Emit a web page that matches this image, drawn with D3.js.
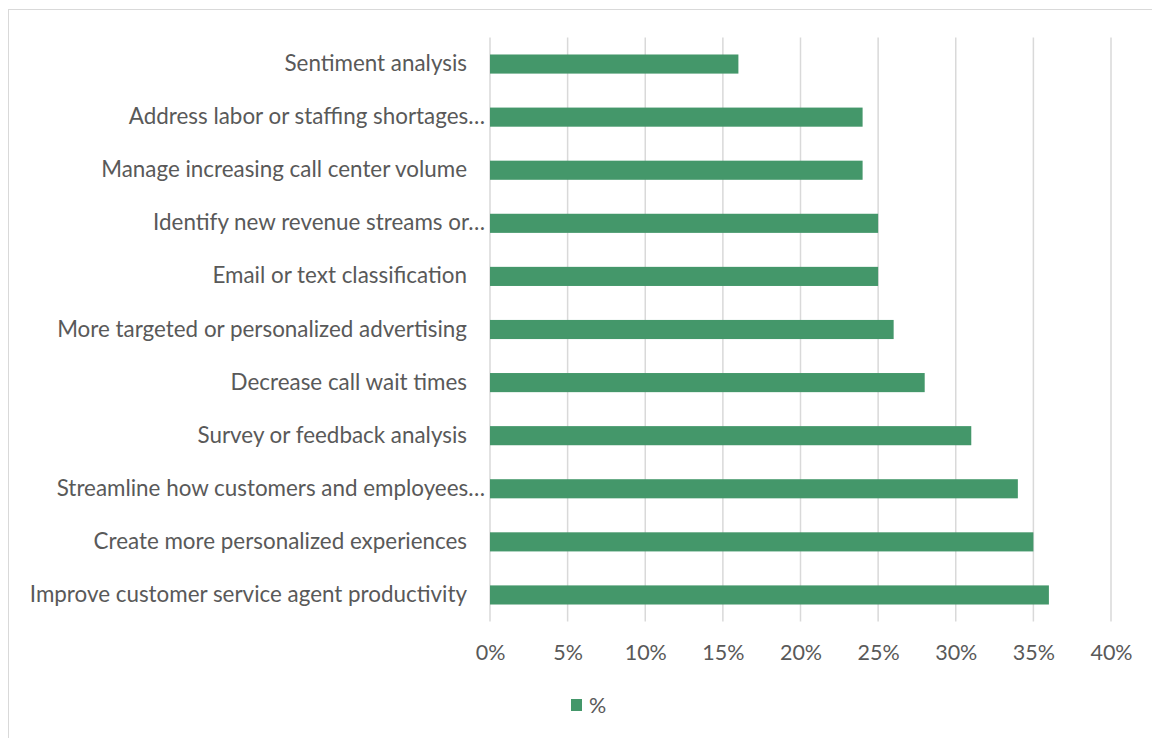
<!DOCTYPE html>
<html>
<head>
<meta charset="utf-8">
<script src="https://cdn.jsdelivr.net/npm/d3@7/dist/d3.min.js"></script>
<style>
  html, body { margin: 0; padding: 0; background: #fff; }
  svg text { font-family: Lato, "Open Sans", sans-serif; fill: #595959; white-space: pre; }
</style>
</head>
<body>
<svg id="chart" width="1152" height="738"></svg>
<script>
// Survey categories, listed top to bottom
const categories = [
  "Sentiment analysis",
  "Address labor or staffing shortages…",
  "Manage increasing call center volume",
  "Identify new revenue streams or…",
  "Email or text classification",
  "More targeted or personalized advertising",
  "Decrease call wait times",
  "Survey or feedback analysis",
  "Streamline how customers and employees…",
  "Create more personalized experiences",
  "Improve customer service agent productivity"
];
// Share of respondents (%)
const values = [16, 24, 24, 25, 25, 26, 28, 31, 34, 35, 36];
const tickValues = [0, 5, 10, 15, 20, 25, 30, 35, 40];
const seriesName = "%";

const svg = d3.select("#chart");
const W = 1152, H = 738;

// Chart area frame
svg.append("rect")
  .attr("x", 8.5).attr("y", 9.5)
  .attr("width", W + 10).attr("height", H + 10)
  .attr("fill", "#fff").attr("stroke", "#d9d9d9").attr("stroke-width", 1);

const plot = { left: 490, right: 1111, top: 37.5, bottom: 621.5 };

const x = d3.scaleLinear().domain([0, 40]).range([plot.left, plot.right]);
const y = d3.scaleBand().domain(categories).range([plot.top, plot.bottom]).paddingInner(0.64).paddingOuter(0.32);

// Vertical gridlines
svg.append("g").selectAll("line").data(tickValues).join("line")
  .attr("x1", d => x(d)).attr("x2", d => x(d))
  .attr("y1", plot.top).attr("y2", plot.bottom)
  .attr("stroke", "#d9d9d9").attr("stroke-width", 1.5);

// Bars
svg.append("g").selectAll("rect").data(values).join("rect")
  .attr("x", x(0))
  .attr("y", (d, i) => y(categories[i]))
  .attr("width", d => x(d) - x(0))
  .attr("height", y.bandwidth())
  .attr("fill", "#44976a");

// Category labels
svg.append("g").selectAll("text").data(categories).join("text")
  .attr("x", d => d.endsWith("…") ? 485 : 467)
  .attr("y", d => y(d) + y.bandwidth() / 2 - 1.5)
  .attr("text-anchor", "end")
  .attr("dominant-baseline", "central")
  .attr("font-size", 22.4)
  .text(d => d);

// Value axis labels
const xAxis = d3.axisBottom(x).tickValues(tickValues).tickFormat(d => d + "%").tickSize(0).tickPadding(0);
const gx = svg.append("g").attr("transform", `translate(0,${plot.bottom})`).call(xAxis);
gx.select(".domain").remove();
gx.selectAll("text")
  .attr("y", 31)
  .attr("dy", "0.35em")
  .attr("font-size", 21.5)
  .style("font-family", "Lato, 'Open Sans', sans-serif")
  .attr("fill", "#595959");

// Legend
const lg = svg.append("g").attr("transform", "translate(571,699)");
lg.append("rect").attr("width", 11).attr("height", 12).attr("fill", "#44976a");
lg.append("text").attr("x", 18).attr("y", 6).attr("dominant-baseline", "central")
  .attr("font-size", 21.5).text(seriesName);
</script>
</body>
</html>
